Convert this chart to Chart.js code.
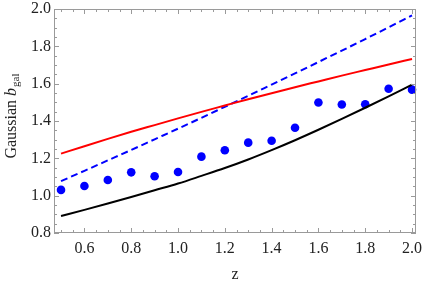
<!DOCTYPE html>
<html>
<head>
<meta charset="utf-8">
<script src="https://cdn.jsdelivr.net/npm/chart.js@4.4.1/dist/chart.umd.min.js"></script>
<style>
  html, body { margin: 0; padding: 0; background: #fff; }
  canvas { display: block; }
</style>
</head>
<body>
<canvas id="c" width="422" height="282"></canvas>
<script>
// ---- data ----
const zValues   = [0.5, 0.6, 0.7, 0.8, 0.9, 1.0, 1.1, 1.2, 1.3, 1.4, 1.5, 1.6, 1.7, 1.8, 1.9, 2.0];
const measuredBias = [1.031, 1.052, 1.084, 1.125, 1.104, 1.127, 1.209, 1.243, 1.284, 1.294, 1.364, 1.499, 1.488, 1.490, 1.573, 1.568];
const redCurve  = [1.225, 1.265, 1.304, 1.342, 1.378, 1.414, 1.449, 1.483, 1.517, 1.549, 1.581, 1.612, 1.643, 1.673, 1.703, 1.732];
const blueDashedCurve = [1.078, 1.133, 1.189, 1.245, 1.302, 1.359, 1.417, 1.476, 1.535, 1.595, 1.655, 1.716, 1.777, 1.839, 1.902, 1.966];
const blackCurve = [0.891, 0.924, 0.958, 0.993, 1.029, 1.065, 1.106, 1.148, 1.194, 1.244, 1.297, 1.353, 1.411, 1.471, 1.532, 1.595];
const xTickLabels = [0.6, 0.8, 1.0, 1.2, 1.4, 1.6, 1.8, 2.0];
const yTickLabels = [0.8, 1.0, 1.2, 1.4, 1.6, 1.8, 2.0];

const toPts = arr => zValues.map((z, i) => ({ x: z, y: arr[i] }));
const SERIF = '"Liberation Serif", "Times New Roman", serif';

const framePlugin = {
  id: 'frame',
  afterDraw(chart) {
    const { ctx, chartArea: a, scales: { x, y } } = chart;
    ctx.save();
    ctx.strokeStyle = '#9a9a9a';
    ctx.lineWidth = 1;
    ctx.strokeRect(Math.round(a.left) + 0.5, Math.round(a.top) + 0.5,
                   Math.round(a.right - a.left) - 1, Math.round(a.bottom - a.top) - 1);
    ctx.beginPath();
    // x ticks (major 0.2, minor 0.05)
    for (let k = 10; k <= 40; k++) {
      const v = k * 0.05;
      const px = Math.round(x.getPixelForValue(v)) + 0.5;
      if (px < a.left || px > a.right) continue;
      const len = (k % 4 === 0) ? 5 : 3;
      ctx.moveTo(px, a.bottom); ctx.lineTo(px, a.bottom - len);
      ctx.moveTo(px, a.top); ctx.lineTo(px, a.top + len);
    }
    for (let k = 16; k <= 40; k++) {
      const v = k * 0.05;
      const py = Math.round(y.getPixelForValue(v)) + 0.5;
      const len = (k % 4 === 0) ? 5 : 3;
      ctx.moveTo(a.left, py); ctx.lineTo(a.left + len, py);
      ctx.moveTo(a.right, py); ctx.lineTo(a.right - len, py);
    }
    ctx.stroke();

    // y axis title: "Gaussian b_gal"
    const big = '16px ' + SERIF;
    const bigIt = 'italic 16px ' + SERIF;
    const small = '11px ' + SERIF;
    ctx.fillStyle = '#222';
    ctx.font = big; const w1 = ctx.measureText('Gaussian ').width;
    ctx.font = bigIt; const w2 = ctx.measureText('b').width;
    ctx.font = small; const w3 = ctx.measureText('gal').width;
    const total = w1 + w2 + 1 + w3;
    const cy = (a.top + a.bottom) / 2 - 5;
    ctx.translate(16, cy);
    ctx.rotate(-Math.PI / 2);
    ctx.textBaseline = 'alphabetic';
    ctx.textAlign = 'left';
    let xx = -total / 2;
    ctx.font = big; ctx.fillText('Gaussian ', xx, 0); xx += w1;
    ctx.font = bigIt; ctx.fillText('b', xx, 0); xx += w2 + 1;
    ctx.font = small; ctx.fillText('gal', xx, 3);
    ctx.restore();
  }
};

new Chart(document.getElementById('c'), {
  type: 'line',
  data: {
    datasets: [
      { label: 'red', data: toPts(redCurve), borderColor: 'rgb(255,0,0)', borderWidth: 2, pointRadius: 0, fill: false, cubicInterpolationMode: 'monotone' },
      { label: 'blue dashed', data: toPts(blueDashedCurve), borderColor: 'rgb(0,0,255)', borderWidth: 2, borderDash: [7, 4], pointRadius: 0, fill: false, cubicInterpolationMode: 'monotone' },
      { label: 'black', data: toPts(blackCurve), borderColor: 'rgb(0,0,0)', borderWidth: 2, pointRadius: 0, fill: false, cubicInterpolationMode: 'monotone' },
      { label: 'measured', data: toPts(measuredBias), showLine: false, pointRadius: 4.3, pointBackgroundColor: 'rgb(0,0,255)', pointBorderColor: 'rgb(0,0,255)', pointBorderWidth: 0 }
    ]
  },
  options: {
    responsive: false,
    animation: false,
    devicePixelRatio: 1,
    clip: false,
    layout: { padding: { left: 0, right: 6, top: 9, bottom: 0 } },
    plugins: { legend: { display: false }, tooltip: { enabled: false } },
    scales: {
      x: {
        type: 'linear', min: 0.47, max: 2.017,
        afterBuildTicks: s => { s.ticks = xTickLabels.map(v => ({ value: v })); },
        afterFit: s => { s.height = 49; s.paddingLeft = 0; s.paddingRight = 0; },
        grid: { display: false, drawTicks: false },
        border: { display: false },
        ticks: { font: { family: SERIF, size: 16 }, color: '#222', padding: 6, maxRotation: 0, autoSkip: false, callback: v => Number(v).toFixed(1) },
        title: { display: true, text: 'z', font: { family: SERIF, size: 16 }, color: '#222', padding: { top: 0, bottom: -2 } }
      },
      y: {
        type: 'linear', min: 0.8, max: 2.0,
        afterBuildTicks: s => { s.ticks = yTickLabels.map(v => ({ value: v })); },
        afterFit: s => { s.width = 54; s.paddingTop = 0; s.paddingBottom = 0; },
        grid: { display: false, drawTicks: false },
        border: { display: false },
        ticks: { font: { family: SERIF, size: 16 }, color: '#222', padding: 3, autoSkip: false, callback: v => Number(v).toFixed(1) }
      }
    }
  },
  plugins: [framePlugin]
});
</script>
</body>
</html>
